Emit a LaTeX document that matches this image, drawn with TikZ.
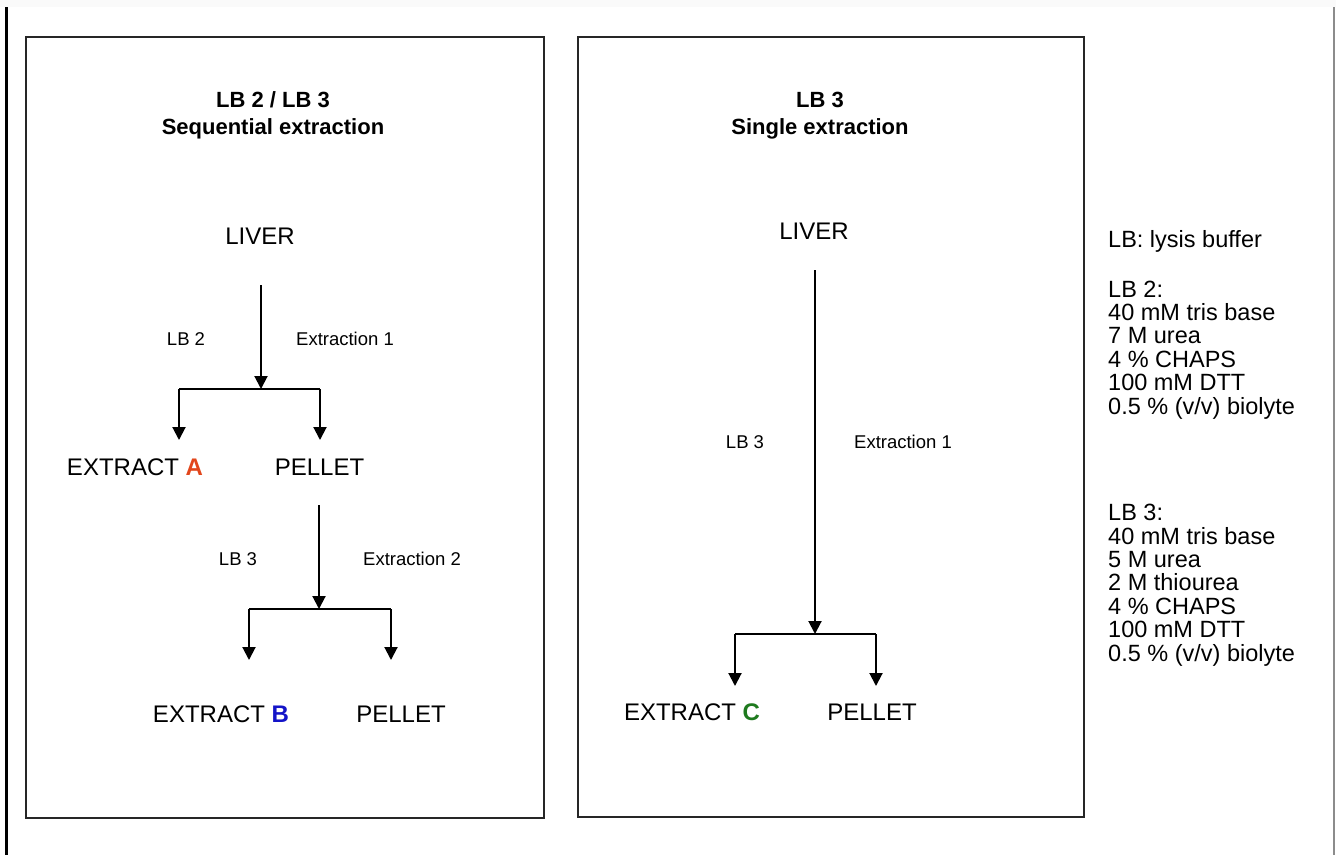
\documentclass[tikz,border=0pt]{standalone}
\usepackage{fontspec}
\setmainfont{Liberation Sans}
\usetikzlibrary{arrows.meta}
\definecolor{cA}{HTML}{E2461C}
\definecolor{cB}{HTML}{1414C8}
\definecolor{cC}{HTML}{1E7A1E}
\tikzset{
  big/.style={font=\fontsize{24}{24}\selectfont, anchor=base, inner sep=0pt},
  small/.style={font=\fontsize{18.5}{18.5}\selectfont, anchor=base, inner sep=0pt},
  ttl/.style={font=\fontsize{22}{22}\selectfont\bfseries, anchor=base, inner sep=0pt},
  legend/.style={font=\fontsize{23.5}{23.4}\selectfont, anchor=base west, inner sep=0pt, align=left},
  panel/.style={draw=black!85, line width=2pt},
  arr/.style={line width=2pt, -{Triangle[width=13pt,length=13pt]}},
  bar/.style={line width=2pt},
}
\begin{document}
\begin{tikzpicture}[x=1pt,y=-1pt]
\useasboundingbox (0,0) rectangle (1336,855);
\fill[black!2] (0,0) rectangle (1336,7);
\draw[line width=3pt, black] (6.5,7) -- (6.5,855);
\draw[line width=2pt, black!45] (1334,7) -- (1334,855);
% panels
\draw[panel] (26,37) rectangle (544,818);
\draw[panel] (578,37) rectangle (1084,817);
% left panel
\node[ttl] (t1a) at (273,107) {LB 2 / LB 3};
\node[ttl] (t1b) at (273,134) {Sequential extraction};
\node[big] (liverL) at (260,244) {LIVER};
\node[small] (lb2) at (186,345) {LB 2};
\node[small] (ex1) at (345,345) {Extraction 1};
\node[big] (extA) at (135,475) {EXTRACT \textcolor{cA}{\bfseries A}};
\node[big] (pelA) at (319.5,475) {PELLET};
\node[small] (lb3a) at (238,565) {LB 3};
\node[small] (ex2) at (412,565) {Extraction 2};
\node[big] (extB) at (221,722) {EXTRACT \textcolor{cB}{\bfseries B}};
\node[big] (pelB) at (401,722) {PELLET};
\coordinate (sA) at (261,285);
\coordinate (jA) at (261,389);
\coordinate (jAl) at (179,389);
\coordinate (jAr) at (320,389);
\coordinate (tAl) at (179,440);
\coordinate (tAr) at (320,440);
\draw[arr] (sA) -- (jA);
\draw[bar] (jAl) -- (jAr);
\draw[arr] (jAl) -- (tAl);
\draw[arr] (jAr) -- (tAr);
\coordinate (sB) at (319,505);
\coordinate (jB) at (319,609);
\coordinate (jBl) at (249,609);
\coordinate (jBr) at (391,609);
\coordinate (tBl) at (249,660);
\coordinate (tBr) at (391,660);
\draw[arr] (sB) -- (jB);
\draw[bar] (jBl) -- (jBr);
\draw[arr] (jBl) -- (tBl);
\draw[arr] (jBr) -- (tBr);
% right panel
\node[ttl] (t2a) at (820,107) {LB 3};
\node[ttl] (t2b) at (820,134) {Single extraction};
\node[big] (liverR) at (814,239) {LIVER};
\node[small] (lb3b) at (745,448) {LB 3};
\node[small] (ex1b) at (903,448) {Extraction 1};
\node[big] (extC) at (692,720) {EXTRACT \textcolor{cC}{\bfseries C}};
\node[big] (pelC) at (872,720) {PELLET};
\coordinate (sC) at (815,270);
\coordinate (jC) at (815,634);
\coordinate (jCl) at (735,634);
\coordinate (jCr) at (876,634);
\coordinate (tCl) at (735,686);
\coordinate (tCr) at (876,686);
\draw[arr] (sC) -- (jC);
\draw[bar] (jCl) -- (jCr);
\draw[arr] (jCl) -- (tCl);
\draw[arr] (jCr) -- (tCr);
% legend
\node[legend] (leg0) at (1108,247) {LB: lysis buffer};
\node[legend] (leg2) at (1108,414) {LB 2:\\40 mM tris base\\7 M urea\\4 \% CHAPS\\100 mM DTT\\0.5 \% (v/v) biolyte};
\node[legend] (leg3) at (1108,661) {LB 3:\\40 mM tris base\\5 M urea\\2 M thiourea\\4 \% CHAPS\\100 mM DTT\\0.5 \% (v/v) biolyte};
\end{tikzpicture}
\end{document}
